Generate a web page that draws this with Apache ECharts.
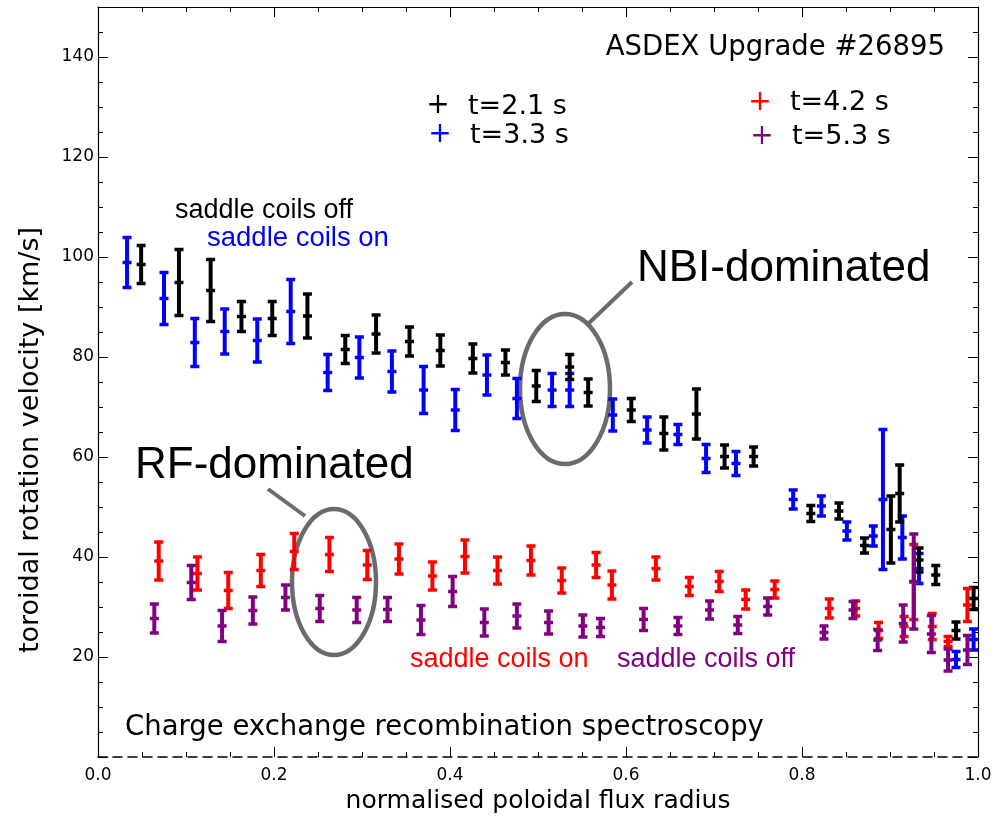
<!doctype html>
<html>
<head>
<meta charset="UTF-8">
<title>ASDEX Upgrade #26895 toroidal rotation</title>
<script type="text/javascript" src="https://cdn.jsdelivr.net/npm/echarts@6/dist/echarts.min.js"></script>
<style>
  html, body { margin: 0; padding: 0; background: #fff; }
  #main { width: 1003px; height: 820px; }
</style>
</head>
<body>
<div id="main"></div>
<script type="text/javascript">
// t=2.1 s (saddle coils off, NBI)
var rho21 = [0.049, 0.092, 0.128, 0.163, 0.198, 0.238, 0.281, 0.316, 0.354, 0.389, 0.426, 0.463, 0.498, 0.536, 0.557, 0.606, 0.643, 0.680, 0.712, 0.745, 0.810, 0.842, 0.871, 0.901, 0.911, 0.933, 0.952, 0.975, 0.995];
var vel21 = [98.5, 94.9, 93.3, 88.1, 87.7, 88.2, 81.5, 84.6, 83.1, 81.3, 79.7, 78.9, 74.2, 78.0, 72.9, 69.4, 64.7, 68.6, 60.1, 60.1, 48.7, 49.2, 42.3, 45.5, 52.7, 39.4, 36.4, 25.3, 31.7];
var err21 = [3.8, 6.6, 6.2, 3.0, 3.4, 4.4, 2.8, 3.8, 2.9, 3.1, 2.9, 2.5, 3.1, 2.5, 2.7, 2.3, 3.3, 5.0, 2.3, 1.9, 1.6, 1.6, 1.5, 6.7, 5.7, 2.4, 1.9, 1.7, 2.2];

// t=3.3 s (saddle coils on, NBI)
var rho33 = [0.033, 0.075, 0.110, 0.144, 0.181, 0.219, 0.261, 0.297, 0.334, 0.370, 0.406, 0.442, 0.476, 0.516, 0.536, 0.585, 0.624, 0.659, 0.691, 0.725, 0.790, 0.822, 0.851, 0.881, 0.892, 0.914, 0.933, 0.975, 0.995];
var vel33 = [98.9, 91.7, 82.9, 85.1, 83.3, 89.1, 76.9, 79.9, 77.1, 73.4, 69.4, 76.4, 71.7, 73.4, 73.4, 68.4, 65.4, 64.5, 59.7, 58.7, 51.5, 50.2, 45.2, 44.2, 51.5, 43.9, 37.7, 19.5, 23.5];
var err33 = [5.0, 5.2, 4.8, 4.5, 4.3, 6.4, 3.6, 4.1, 4.1, 4.7, 4.1, 4.0, 4.0, 3.3, 3.3, 3.2, 2.6, 2.0, 2.8, 2.4, 1.9, 2.0, 1.8, 2.0, 14.0, 4.3, 3.0, 1.6, 2.1];

// t=4.2 s (saddle coils on, RF)
var rho42 = [0.069, 0.113, 0.148, 0.185, 0.223, 0.263, 0.306, 0.342, 0.380, 0.417, 0.454, 0.492, 0.527, 0.566, 0.584, 0.634, 0.672, 0.706, 0.736, 0.769, 0.831, 0.861, 0.887, 0.916, 0.927, 0.948, 0.966, 0.988];
var vel42 = [39.2, 36.7, 33.3, 37.3, 41.1, 40.5, 38.4, 39.6, 36.2, 40.1, 37.3, 39.3, 35.3, 38.4, 34.4, 37.7, 34.1, 35.1, 31.5, 33.5, 29.7, 29.7, 25.3, 26.1, 35.0, 26.1, 23.1, 30.4];
var err42 = [3.8, 3.3, 3.6, 3.2, 3.6, 3.4, 2.9, 3.0, 2.8, 3.3, 2.7, 2.9, 2.5, 2.5, 2.8, 2.3, 1.8, 2.0, 1.9, 1.7, 1.9, 1.5, 1.6, 2.0, 7.5, 2.6, 1.0, 3.3];

// t=5.3 s (saddle coils off, RF)
var rho53 = [0.064, 0.106, 0.141, 0.176, 0.213, 0.252, 0.294, 0.329, 0.367, 0.403, 0.439, 0.476, 0.512, 0.551, 0.571, 0.620, 0.659, 0.695, 0.727, 0.761, 0.825, 0.858, 0.886, 0.915, 0.927, 0.947, 0.966, 0.988];
var vel53 = [27.7, 34.9, 26.2, 29.3, 31.9, 29.7, 29.4, 29.5, 27.4, 33.1, 26.9, 28.2, 26.9, 26.2, 25.9, 27.5, 26.2, 29.4, 26.4, 30.1, 24.9, 29.4, 23.4, 26.7, 35.1, 24.6, 19.4, 21.4];
var err53 = [2.9, 3.4, 3.1, 2.7, 2.5, 2.6, 2.5, 2.4, 2.9, 3.0, 2.7, 2.4, 2.3, 2.2, 1.8, 2.2, 1.7, 1.8, 1.7, 1.7, 1.3, 1.7, 2.1, 3.7, 9.5, 3.7, 2.2, 2.9];

var xTicks = { min: 0, max: 1, interval: 0.2 };
var yTicks = { min: 0, max: 150, interval: 20 };

var FONT = 'DejaVu Sans';
var ARIAL = 'Liberation Sans';

function toRows(xs, vs, es) {
    var rows = [];
    for (var i = 0; i < xs.length; i++) {
        rows.push([xs[i], vs[i], es[i]]);
    }
    return rows;
}

// error bar: vertical line, two caps and a small cross at the value
function renderErrorBar(params, api) {
    var x = api.value(0), v = api.value(1), e = api.value(2);
    var c = api.coord([x, v]);
    var hi = api.coord([x, v + e]);
    var lo = api.coord([x, v - e]);
    var color = api.visual('color');
    var w = 4.5;
    var st = { stroke: color, lineWidth: 3.5 };
    return {
        type: 'group',
        children: [
            { type: 'line', shape: { x1: c[0], y1: hi[1], x2: c[0], y2: lo[1] }, style: { stroke: color, lineWidth: 4 } },
            { type: 'line', shape: { x1: c[0] - w, y1: hi[1], x2: c[0] + w, y2: hi[1] }, style: st },
            { type: 'line', shape: { x1: c[0] - w, y1: lo[1], x2: c[0] + w, y2: lo[1] }, style: st },
            { type: 'line', shape: { x1: c[0] - w, y1: c[1], x2: c[0] + w, y2: c[1] }, style: st }
        ]
    };
}

function barSeries(name, color, rows) {
    return {
        name: name,
        type: 'custom',
        renderItem: renderErrorBar,
        itemStyle: { color: color },
        encode: { x: 0, y: 1 },
        data: rows,
        clip: false,
        silent: true
    };
}

// ticks point into the plot box (negative length flips them inward)
function axisCommon(extra) {
    var a = {
        type: 'value',
        axisLine: { show: true, onZero: false, lineStyle: { color: '#000', width: 1.2 } },
        axisTick: { show: true, inside: false, length: -10, lineStyle: { color: '#000', width: 1 } },
        minorTick: { show: true, splitNumber: 4, length: -5, lineStyle: { color: '#000', width: 1 } },
        splitLine: { show: false },
        minorSplitLine: { show: false }
    };
    for (var k in extra) a[k] = extra[k];
    return a;
}

var gray = '#6b6b6b';

function textEl(txt, x, y, size, color, family, align) {
    return {
        type: 'text',
        x: x, y: y,
        silent: true,
        style: {
            text: txt,
            fill: color,
            font: size + 'px "' + family + '"',
            align: align || 'left',
            verticalAlign: 'middle'
        }
    };
}

var dom = document.getElementById('main');
var myChart = echarts.init(dom, null, { renderer: 'canvas' });

var option = {
    animation: false,
    backgroundColor: '#fff',
    grid: { left: 98, right: 25, top: 7, bottom: 63, containLabel: false },
    xAxis: [
        axisCommon({
            min: xTicks.min, max: xTicks.max, interval: xTicks.interval,
            position: 'bottom',
            axisLine: { show: true, onZero: false, lineStyle: { color: '#000', width: 1.5, type: [9, 6] } },
            axisLabel: {
                show: true, margin: 10, color: '#000', fontSize: 17, fontFamily: FONT,
                formatter: function (v) { return v.toFixed(1); }
            },
            name: 'normalised poloidal flux radius',
            nameLocation: 'middle',
            nameGap: 31,
            nameTextStyle: { color: '#000', fontSize: 25, fontFamily: FONT }
        }),
        axisCommon({
            min: xTicks.min, max: xTicks.max, interval: xTicks.interval,
            position: 'top',
            axisLabel: { show: false }
        })
    ],
    yAxis: [
        axisCommon({
            min: yTicks.min, max: yTicks.max, interval: yTicks.interval,
            position: 'left',
            axisLabel: {
                show: true, margin: 4, color: '#000', fontSize: 17, fontFamily: FONT,
                formatter: function (v) { return (v === 0 || v === 150) ? '' : String(v); }
            }
        }),
        axisCommon({
            min: yTicks.min, max: yTicks.max, interval: yTicks.interval,
            position: 'right',
            axisLabel: { show: false }
        })
    ],
    series: [
        barSeries('t=3.3 s', '#0000ff', toRows(rho33, vel33, err33)),
        barSeries('t=2.1 s', '#000000', toRows(rho21, vel21, err21)),
        barSeries('t=4.2 s', '#ff0000', toRows(rho42, vel42, err42)),
        barSeries('t=5.3 s', '#800080', toRows(rho53, vel53, err53))
    ],
    graphic: [
        // y axis title
        {
            type: 'text', x: 31, y: 440, rotation: Math.PI / 2, silent: true,
            style: { text: 'toroidal rotation velocity [km/s]', fill: '#000', font: '27px "' + FONT + '"', align: 'center', verticalAlign: 'middle' }
        },
        textEl('ASDEX Upgrade #26895', 945, 48, 27.5, '#000', FONT, 'right'),
        // legend
        textEl('+', 438, 106, 28, '#000', FONT, 'center'),
        textEl('t=2.1 s', 468, 107, 27, '#000', FONT),
        textEl('+', 440, 135, 28, '#0000ff', FONT, 'center'),
        textEl('t=3.3 s', 470, 136, 27, '#000', FONT),
        textEl('+', 760, 103, 28, '#ff0000', FONT, 'center'),
        textEl('t=4.2 s', 790, 103, 27, '#000', FONT),
        textEl('+', 762, 137, 28, '#800080', FONT, 'center'),
        textEl('t=5.3 s', 792, 137, 27, '#000', FONT),
        // annotations
        textEl('saddle coils off', 175, 211, 27, '#000', ARIAL),
        textEl('saddle coils on', 207, 238, 27.5, '#0000ff', ARIAL),
        textEl('NBI-dominated', 637, 269, 44, '#000', ARIAL),
        textEl('RF-dominated', 135, 466, 44, '#000', ARIAL),
        textEl('saddle coils on', 410, 660, 27, '#ff0000', ARIAL),
        textEl('saddle coils off', 617, 660, 27, '#800080', ARIAL),
        textEl('Charge exchange recombination spectroscopy', 125, 728, 27.5, '#000', FONT),
        // circles around the two regimes
        { type: 'ellipse', silent: true, shape: { cx: 565, cy: 389, rx: 45, ry: 75 }, style: { fill: 'none', stroke: gray, lineWidth: 4.5 } },
        { type: 'line', silent: true, shape: { x1: 589, y1: 323, x2: 632, y2: 282 }, style: { stroke: gray, lineWidth: 4 } },
        { type: 'ellipse', silent: true, shape: { cx: 334, cy: 582, rx: 42, ry: 73 }, style: { fill: 'none', stroke: gray, lineWidth: 4.5 } },
        { type: 'line', silent: true, shape: { x1: 268, y1: 489, x2: 305, y2: 516 }, style: { stroke: gray, lineWidth: 4 } }
    ]
};

if (option && typeof option === 'object') {
    myChart.setOption(option, true);
}
</script>
</body>
</html>
